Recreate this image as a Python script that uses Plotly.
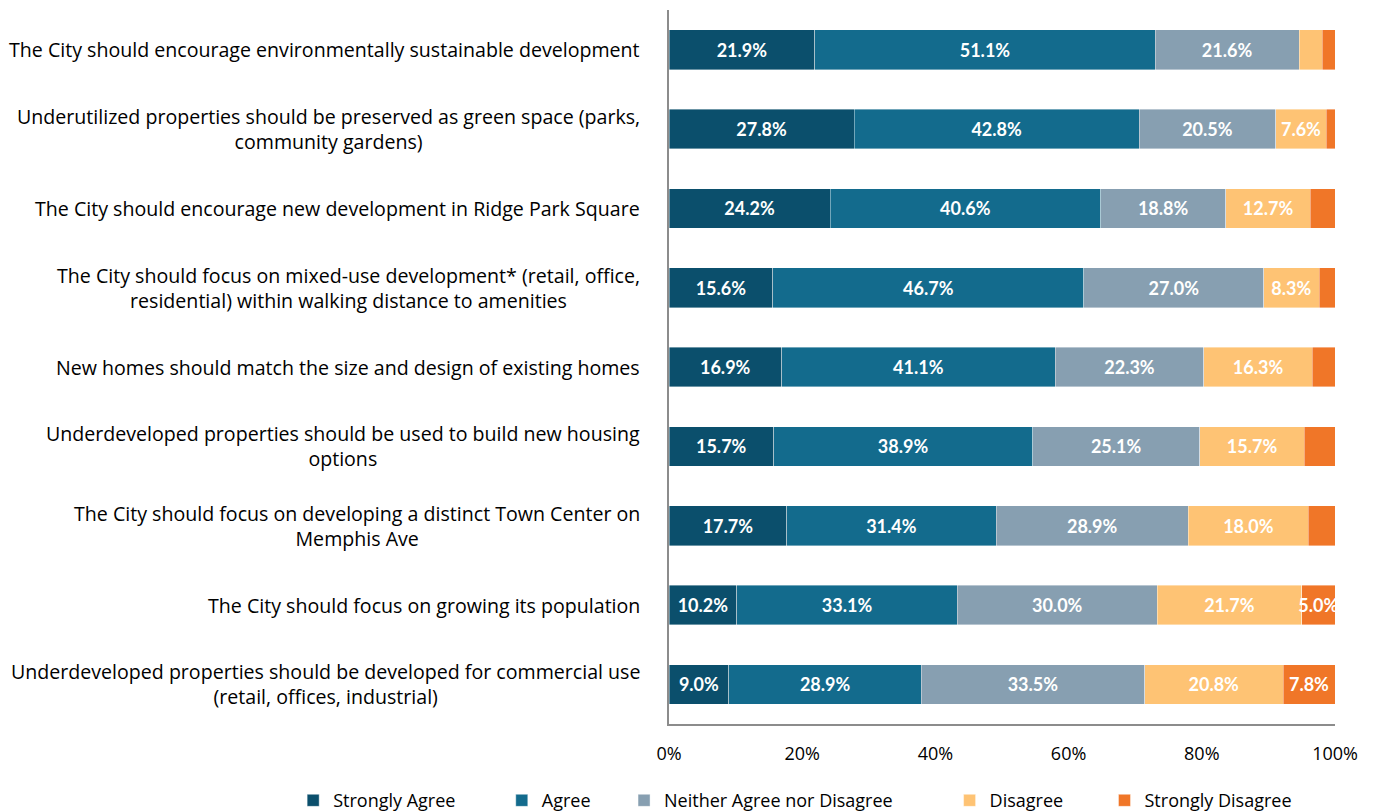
import plotly.graph_objects as go

categories = [
    "The City should encourage environmentally sustainable development",
    "Underutilized properties should be preserved as green space (parks,<br>community gardens)",
    "The City should encourage new development in Ridge Park Square",
    "The City should focus on mixed-use development* (retail, office,<br>residential) within walking distance to amenities",
    "New homes should match the size and design of existing homes",
    "Underdeveloped properties should be used to build new housing<br>options",
    "The City should focus on developing a distinct Town Center on<br>Memphis Ave",
    "The City should focus on growing its population",
    "Underdeveloped properties should be developed for commercial use<br>(retail, offices, industrial)",
]

strongly_agree = [21.9, 27.8, 24.2, 15.6, 16.9, 15.7, 17.7, 10.2, 9.0]
agree = [51.1, 42.8, 40.6, 46.7, 41.1, 38.9, 31.4, 33.1, 28.9]
neither = [21.6, 20.5, 18.8, 27.0, 22.3, 25.1, 28.9, 30.0, 33.5]
disagree = [3.5, 7.6, 12.7, 8.3, 16.3, 15.7, 18.0, 21.7, 20.8]
strongly_disagree = [1.9, 1.3, 3.7, 2.4, 3.4, 4.6, 4.0, 5.0, 7.8]

series = [
    ("Strongly Agree", strongly_agree, "#0B4F6C"),
    ("Agree", agree, "#136B8D"),
    ("Neither Agree nor Disagree", neither, "#879FB1"),
    ("Disagree", disagree, "#FEC374"),
    ("Strongly Disagree", strongly_disagree, "#F07628"),
]

# left edge of each legend entry (fraction of the page width)
legend_x = [0.2129, 0.3644, 0.4532, 0.6896, 0.8021]

TEXT_FONT = "'Open Sans', 'Noto Sans', sans-serif"
LABEL_FONT = "Lato, 'Open Sans', sans-serif"
AXIS_COLOR = "#8C8C8C"

fig = go.Figure()
layout_legends = {}
for i, (name, vals, color) in enumerate(series):
    leg = "legend" if i == 0 else f"legend{i + 1}"
    fig.add_trace(go.Bar(
        name=name,
        y=categories,
        x=vals,
        orientation="h",
        marker=dict(color=color, line=dict(color="rgba(255,255,255,0.5)", width=0.8)),
        text=[f"{v:.1f}%" if v >= 5 else "" for v in vals],
        textposition="inside",
        insidetextanchor="middle",
        textangle=0,
        textfont=dict(color="white", size=18, family=LABEL_FONT, weight="bold"),
        cliponaxis=False,
        legend=leg,
    ))
    layout_legends[leg] = dict(
        xref="container", yref="container",
        x=legend_x[i], xanchor="left",
        y=0.014, yanchor="middle",
        font=dict(size=18, family=TEXT_FONT, color="#000000"),
        bgcolor="rgba(0,0,0,0)", itemwidth=30,
    )

# category labels, centred line by line
for cat in categories:
    fig.add_annotation(
        x=0, xref="paper", xshift=-27, xanchor="right",
        y=cat, yref="y", yanchor="middle",
        text=cat, align="center", showarrow=False,
        font=dict(size=19.6, color="#000000", family=TEXT_FONT),
    )

fig.update_layout(
    barmode="stack",
    bargap=0.5,
    width=1377, height=812,
    margin=dict(l=669, r=42, t=10, b=88, autoexpand=False),
    plot_bgcolor="white", paper_bgcolor="white",
    font=dict(family=TEXT_FONT, size=18, color="#000000"),
    uniformtext=dict(minsize=18, mode="show"),
    showlegend=True,
    **layout_legends,
)
fig.update_xaxes(range=[0, 100], tickvals=[0, 20, 40, 60, 80, 100],
                 ticktext=["0%", "20%", "40%", "60%", "80%", "100%"],
                 showgrid=False, zeroline=False, showline=True, linecolor=AXIS_COLOR,
                 linewidth=1.5, ticks="", tickfont=dict(size=18), ticklabelstandoff=13)
fig.update_yaxes(categoryorder="array", categoryarray=categories, autorange="reversed",
                 showticklabels=False, showgrid=False, showline=True,
                 linecolor=AXIS_COLOR, linewidth=1.5, ticks="")

fig.write_html("out.html")
